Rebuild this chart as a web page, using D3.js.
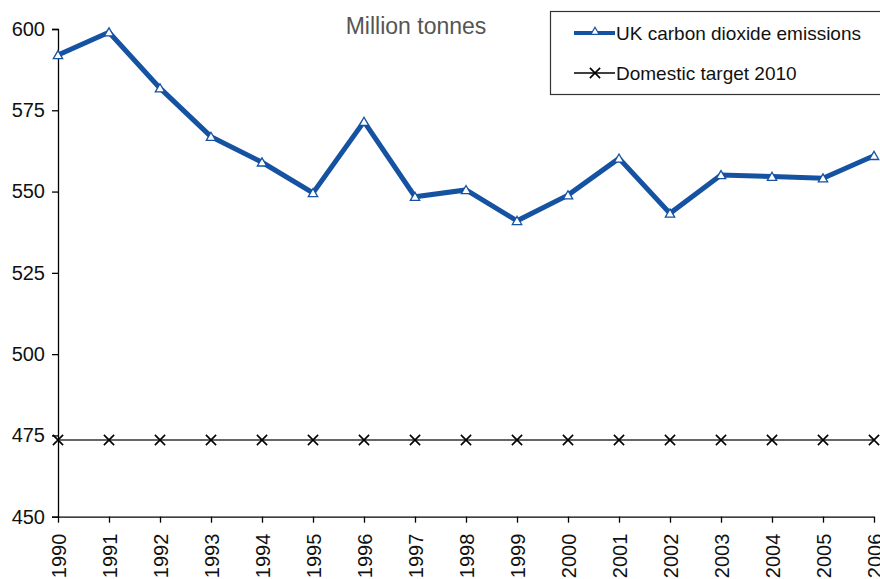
<!DOCTYPE html>
<html>
<head>
<meta charset="utf-8">
<script src="https://cdn.jsdelivr.net/npm/d3@7"></script>
<style>
  html, body { margin: 0; padding: 0; background: #fff; }
  svg { display: block; font-family: "Liberation Sans", Arial, sans-serif; }
</style>
</head>
<body>
<svg id="chart" width="880" height="579"></svg>
<script>
// UK carbon dioxide emissions, million tonnes
const years = [1990, 1991, 1992, 1993, 1994, 1995, 1996, 1997, 1998, 1999, 2000, 2001, 2002, 2003, 2004, 2005, 2006];
const emissions = [592.0, 599.0, 581.8, 566.9, 559.0, 549.6, 571.5, 548.4, 550.5, 541.0, 548.9, 560.2, 543.3, 555.1, 554.6, 554.1, 561.0];
const domesticTarget = 473.6;
const yTicks = [450, 475, 500, 525, 550, 575, 600];
const seriesNames = ["UK carbon dioxide emissions", "Domestic target 2010"];
const unitLabel = "Million tonnes";

const svg = d3.select("#chart");
const margin = { left: 58, right: 6, top: 29, bottom: 62 };
const W = 880, H = 579;

const x = d3.scalePoint()
  .domain(years)
  .range([margin.left, W - margin.right]);
const y = d3.scaleLinear()
  .domain([450, 600])
  .range([H - margin.bottom - 0.3, margin.top]);

const blue = "#1552a2";

// Y axis
const yAxis = svg.append("g")
  .attr("transform", `translate(${margin.left},0)`)
  .call(d3.axisLeft(y).tickValues(yTicks).tickSize(6).tickPadding(7));
yAxis.select(".domain").attr("stroke", "#000").attr("stroke-width", 1.3);
yAxis.selectAll(".tick line").attr("stroke", "#000").attr("stroke-width", 1.3);
yAxis.selectAll(".tick text")
  .attr("font-size", 20).attr("fill", "#111")
  .attr("font-family", "Liberation Sans, Arial, sans-serif");

// X axis
const xAxis = svg.append("g")
  .attr("transform", `translate(0,${y(450)})`)
  .call(d3.axisBottom(x).tickSize(6).tickSizeOuter(0));
xAxis.select(".domain").attr("stroke", "#000").attr("stroke-width", 1.3);
xAxis.selectAll(".tick line").attr("stroke", "#000").attr("stroke-width", 1.3);
xAxis.selectAll(".tick text")
  .attr("font-size", 20).attr("fill", "#111")
  .attr("font-family", "Liberation Sans, Arial, sans-serif")
  .attr("text-anchor", "end")
  .attr("dy", "0.35em")
  .attr("transform", "translate(0,17) rotate(-90)")
  .attr("x", 0).attr("y", 0);

// Domestic target line with cross markers
const targetData = years.map(yr => ({ yr, v: domesticTarget }));
svg.append("path")
  .datum(targetData)
  .attr("fill", "none")
  .attr("stroke", "#333")
  .attr("stroke-width", 1.5)
  .attr("d", d3.line().x(d => x(d.yr)).y(d => y(d.v)));
const cross = d3.symbol().type(d3.symbolX).size(70);
svg.append("g").selectAll("path")
  .data(targetData)
  .join("path")
  .attr("d", cross)
  .attr("transform", d => `translate(${x(d.yr)},${y(d.v)})`)
  .attr("fill", "none")
  .attr("stroke", "#000")
  .attr("stroke-width", 1.6);

// Emissions line with triangle markers
const emData = years.map((yr, i) => ({ yr, v: emissions[i] }));
svg.append("path")
  .datum(emData)
  .attr("fill", "none")
  .attr("stroke", blue)
  .attr("stroke-width", 5)
  .attr("stroke-linejoin", "miter")
  .attr("d", d3.line().x(d => x(d.yr)).y(d => y(d.v)));
const tri = d3.symbol().type(d3.symbolTriangle).size(38);
svg.append("g").selectAll("path")
  .data(emData)
  .join("path")
  .attr("d", tri)
  .attr("transform", d => `translate(${x(d.yr)},${y(d.v) + 1})`)
  .attr("fill", "#fff")
  .attr("stroke", blue)
  .attr("stroke-width", 1.3);

// Unit label
svg.append("text")
  .attr("x", 416).attr("y", 34)
  .attr("text-anchor", "middle")
  .attr("font-size", 23)
  .attr("fill", "#555")
  .text(unitLabel);

// Legend
const lg = svg.append("g");
lg.append("rect")
  .attr("x", 550.5).attr("y", 11.5)
  .attr("width", 340).attr("height", 83)
  .attr("fill", "#fff")
  .attr("stroke", "#333")
  .attr("stroke-width", 1.2);
const legendRows = [33, 73];
lg.append("line")
  .attr("x1", 574).attr("x2", 615)
  .attr("y1", legendRows[0]).attr("y2", legendRows[0])
  .attr("stroke", blue).attr("stroke-width", 4);
lg.append("path")
  .attr("d", d3.symbol().type(d3.symbolTriangle).size(30))
  .attr("transform", `translate(595,${legendRows[0] - 1})`)
  .attr("fill", "#fff").attr("stroke", blue).attr("stroke-width", 1.2);
lg.append("line")
  .attr("x1", 574).attr("x2", 615)
  .attr("y1", legendRows[1]).attr("y2", legendRows[1])
  .attr("stroke", "#000").attr("stroke-width", 1.5);
lg.append("path")
  .attr("d", d3.symbol().type(d3.symbolX).size(70))
  .attr("transform", `translate(595,${legendRows[1]})`)
  .attr("fill", "none").attr("stroke", "#000").attr("stroke-width", 1.6);
lg.selectAll("text.leg")
  .data(seriesNames)
  .join("text")
  .attr("class", "leg")
  .attr("x", 616)
  .attr("y", (d, i) => legendRows[i])
  .attr("dy", "0.35em")
  .attr("font-size", 19)
  .attr("fill", "#111")
  .text(d => d);
</script>
</body>
</html>
